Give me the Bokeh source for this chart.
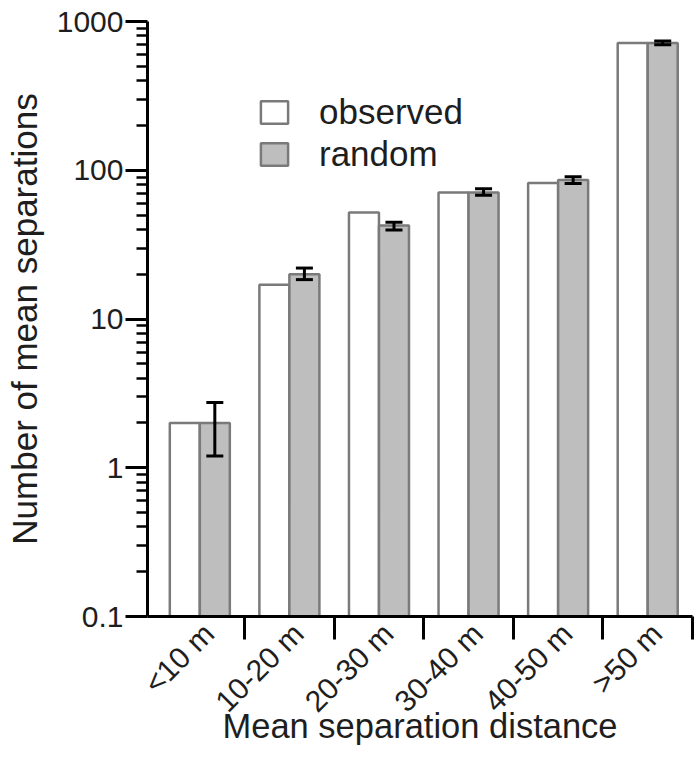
import math
from bokeh.plotting import figure
from bokeh.models import (Range1d, LinearAxis, FixedTicker, CustomJSTickFormatter,
                          Whisker, TeeHead, Legend, LegendItem, ColumnDataSource)
from bokeh.embed import file_html
from bokeh.resources import INLINE

# ---- data ----
categories = ["<10 m", "10-20 m", "20-30 m", "30-40 m", "40-50 m", ">50 m"]
observed = [2.0, 17.0, 52.0, 71.0, 82.0, 718.0]
random_mean = [2.0, 20.0, 42.5, 71.0, 86.0, 718.0]
random_lower = [1.2, 18.4, 39.7, 67.8, 81.5, 698.0]
random_upper = [2.75, 22.0, 44.7, 75.0, 90.5, 740.0]
y_ticks = [0.1, 1, 10, 100, 1000]
series_names = ["observed", "random"]

FONT = "Liberation Sans"
TXT = "#1e1e1e"
EDGE = "#7a7a7a"
GREY = "#bebebe"

n = len(categories)
centers = [i + 0.5 for i in range(n)]
bw = 0.335
obs_x = [c - bw / 2 for c in centers]
rnd_x = [c + bw / 2 for c in centers]
minor = [m * 10.0 ** k for k in range(-1, 3) for m in range(2, 10)]

p = figure(width=694, height=747, y_axis_type="log",
           x_range=Range1d(-0.084, float(n)), y_range=Range1d(0.1, 1000),
           output_backend="svg", toolbar_location=None, x_axis_location=None,
           min_border_left=147, min_border_right=2, min_border_top=21,
           min_border_bottom=0)
p.outline_line_color = None
p.grid.visible = False
p.background_fill_color = "white"

r_obs = p.vbar(x=obs_x, top=observed, bottom=0.1, width=bw,
               fill_color="white", line_color=EDGE, line_width=2.5)
r_rnd = p.vbar(x=rnd_x, top=random_mean, bottom=0.1, width=bw,
               fill_color=GREY, line_color=EDGE, line_width=2.5)

src = ColumnDataSource(dict(x=rnd_x, lower=random_lower, upper=random_upper))
wh = Whisker(source=src, base="x", lower="lower", upper="upper",
             line_width=3, line_color="black", level="annotation",
             upper_head=TeeHead(size=17, line_width=3, line_color="black"),
             lower_head=TeeHead(size=17, line_width=3, line_color="black"))
p.add_layout(wh)

# y axis
ya = p.yaxis[0]
ya.ticker = FixedTicker(ticks=y_ticks, minor_ticks=minor)
ya.formatter = CustomJSTickFormatter(code="return tick.toString();")
ya.axis_label = "Number of mean separations"
ya.axis_label_text_font = FONT
ya.axis_label_text_font_style = "normal"
ya.axis_label_text_font_size = "35px"
ya.axis_label_text_color = TXT
ya.axis_label_standoff = 10
ya.major_label_text_font = FONT
ya.major_label_text_font_size = "30px"
ya.major_label_text_color = TXT
ya.major_label_standoff = 2
ya.axis_line_width = 3
ya.axis_line_color = "black"
ya.major_tick_line_width = 3
ya.minor_tick_line_width = 2.5
ya.major_tick_out = 22
ya.major_tick_in = 0
ya.minor_tick_out = 11
ya.minor_tick_in = 0

# x axis: line and boundary ticks
bounds = [i + 1 for i in range(n)]
xa = LinearAxis(ticker=FixedTicker(ticks=bounds, minor_ticks=[]),
                formatter=CustomJSTickFormatter(code="return '';"),
                axis_line_width=3, axis_line_color="black",
                major_tick_line_width=3, major_tick_out=23, major_tick_in=0,
                minor_tick_out=0, minor_tick_in=0,
                major_label_standoff=0, major_label_text_font_size="0px")
p.add_layout(xa, "below")

# x axis: category labels
shift = 0.1
label_ticks = [c + shift for c in centers]
xb = LinearAxis(ticker=FixedTicker(ticks=label_ticks, minor_ticks=[]),
                major_label_overrides={t: c for t, c in zip(label_ticks, categories)},
                axis_line_color=None, major_tick_line_color=None,
                minor_tick_line_color=None, major_tick_out=0, major_tick_in=0,
                minor_tick_out=0, minor_tick_in=0,
                major_label_orientation=math.pi / 4, major_label_standoff=-11,
                major_label_text_font=FONT, major_label_text_font_size="30px",
                major_label_text_color=TXT,
                axis_label="Mean separation distance",
                axis_label_text_font=FONT, axis_label_text_font_style="normal",
                axis_label_text_font_size="34.5px", axis_label_text_color=TXT,
                axis_label_standoff=-26)
p.add_layout(xb, "below")

legend = Legend(items=[LegendItem(label=series_names[0], renderers=[r_obs]),
                       LegendItem(label=series_names[1], renderers=[r_rnd])],
                location=(110, 442))
legend.background_fill_alpha = 0
legend.border_line_alpha = 0
legend.label_text_font = FONT
legend.label_text_font_size = "35px"
legend.label_text_color = TXT
legend.glyph_width = 34
legend.glyph_height = 28
legend.label_standoff = 28
legend.spacing = 2
legend.padding = 0
legend.margin = 0
p.add_layout(legend)

open("out.html", "w").write(file_html(p, INLINE))
